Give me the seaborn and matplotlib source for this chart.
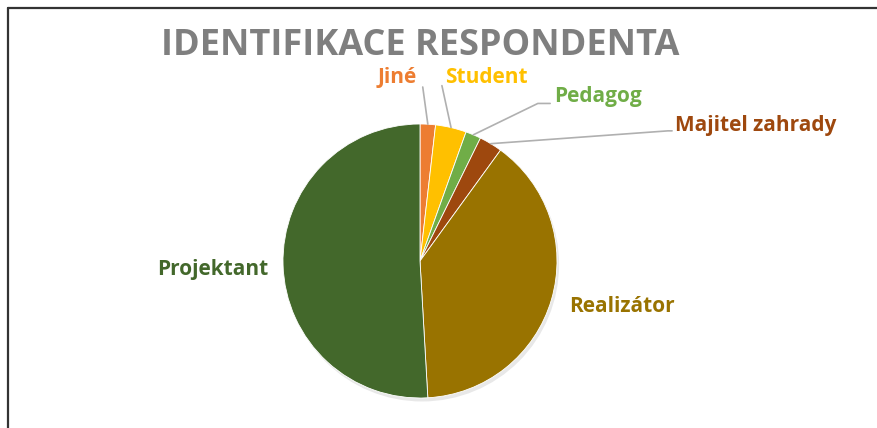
import numpy as np
import matplotlib
matplotlib.use("Agg")
import matplotlib.pyplot as plt
import matplotlib.patheffects as pe
from matplotlib.lines import Line2D
from matplotlib.patches import Circle
import seaborn as sns

# data (counts, clockwise from 12 o'clock)
categories = ['Jiné', 'Student', 'Pedagog', 'Majitel zahrady', 'Realizátor', 'Projektant']
counts = [2, 4, 2, 3, 43, 56]
colors = ['#ED7D31', '#FFC000', '#70AD47', '#9E480E', '#997300', '#43682B']

# label placement (pie radius = 1), and leader line elbows (None = no line)
label_pos = [(-0.17, 1.34), (0.18, 1.34), (0.98, 1.20), (1.86, 0.99), (1.09, -0.33), (-1.11, -0.06)]
label_ha = ['center', 'left', 'left', 'left', 'left', 'right']
leader = [[(0.02, 1.27)], [(0.16, 1.28)], [(0.86, 1.15), (0.95, 1.15)],
          [(1.81, 0.95), (1.84, 0.95)], None, None]

sns.set_theme(style='white')
plt.rcParams['font.family'] = ['Open Sans', 'DejaVu Sans']

fig = plt.figure(figsize=(8.78, 4.28), dpi=100)
ax = fig.add_axes([0, 0, 1, 1])

# soft shadow under the pie
ax.add_patch(Circle((0, 0), 1, fc='white', ec='none', zorder=0,
                    path_effects=[pe.SimplePatchShadow(offset=(1.5, -2.5), shadow_rgbFace='#cccccc', alpha=0.45, rho=0.9),
                                  pe.Normal()]))

wedges, _ = ax.pie(counts, colors=colors, startangle=90, counterclock=False,
                   radius=1, center=(0, 0), frame=True,
                   wedgeprops=dict(edgecolor='white', linewidth=0.6))
ax.set_xlim(-420 / 137, (878 - 420) / 137)
ax.set_ylim(-(428 - 261) / 137, 261 / 137)
ax.set_aspect('auto')
ax.axis('off')
for s in ax.spines.values():
    s.set_visible(False)

total = sum(counts)
start = 0.0
for i, (cat, c) in enumerate(zip(categories, counts)):
    mid = start + c / 2
    start += c
    ang = np.deg2rad(90 - 360 * mid / total)
    if leader[i] is not None:
        pts = [(np.cos(ang), np.sin(ang))] + leader[i]
        xs, ys = zip(*pts)
        ax.plot(xs, ys, color='#b0b0b0', lw=1.2, zorder=1)
    ax.text(label_pos[i][0], label_pos[i][1], cat, color=colors[i], fontsize=15,
            fontweight='bold', ha=label_ha[i], va='center')

fig.text(420 / 878, 1 - 46 / 428, 'IDENTIFIKACE RESPONDENTA', color='#7F7F7F',
         fontsize=26, fontweight='bold', ha='center', va='center')

# chart frame (top and left edges visible)
fig.add_artist(Line2D([8 / 878, 1], [1 - 8 / 428, 1 - 8 / 428], color='#333333', lw=1.6))
fig.add_artist(Line2D([8 / 878, 8 / 878], [0, 1 - 8 / 428], color='#333333', lw=1.6))

fig.savefig('out.png', dpi=100)
